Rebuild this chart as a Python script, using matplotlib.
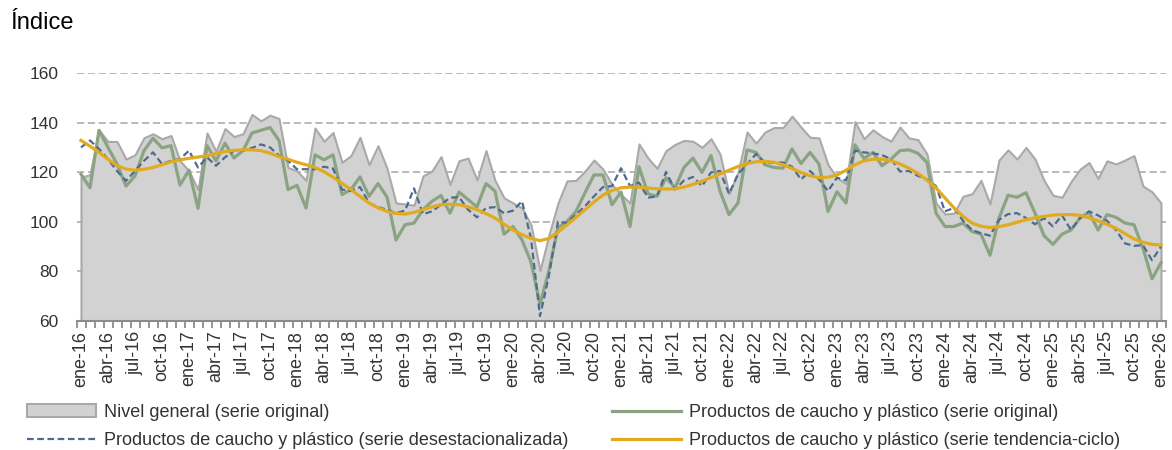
import matplotlib
matplotlib.use('Agg')
import matplotlib.pyplot as plt
import numpy as np

plt.rcParams['font.family'] = ['Liberation Sans', 'DejaVu Sans']

# monthly index, ene-16 .. ene-26
nivel_general = [118, 119, 137, 132.4, 132.4, 125.3, 127, 133.9, 135.5, 133.5,
                 134.8, 124.6, 120.5, 113, 135.8, 128.4, 137.6, 134.4, 135.5, 143.3,
                 140.7, 143, 141.6, 121.9, 120.5, 116.7, 137.8, 132.5, 136, 124,
                 126.7, 134.1, 123, 130.7, 121.6, 107.6, 107.2, 106.7, 118.5, 120.5,
                 126.3, 115.1, 124.6, 125.7, 116.9, 128.7, 116.7, 109.7, 107.6, 105.6,
                 98.8, 80.4, 94.8, 107.6, 116.5, 116.7, 120.5, 124.9, 121.2, 115.1,
                 111, 107.6, 131.4, 125.7, 121.6, 128.7, 131.2, 132.8, 132.5, 130,
                 133.5, 127.3, 111.3, 119.9, 136.2, 131.7, 136.2, 138, 138, 142.6,
                 138.2, 134.1, 133.8, 123, 117.8, 115.4, 140.4, 133.5, 137.1, 134.4,
                 132.5, 138.2, 133.8, 133.1, 127.3, 107.6, 103.1, 103.5, 110.3, 111.3,
                 116.7, 107.2, 124.9, 129, 125.3, 130, 125.3, 116.7, 110.7, 109.9,
                 116.2, 121.2, 123.9, 117.5, 124.6, 123.3, 124.9, 126.7, 114.4, 112.1,
                 107.6]

caucho_original = [119.2, 113.7, 136.9, 130, 123.3, 114.4, 118.5, 128.7, 133.7, 129.8,
                   130.7, 114.8, 120.8, 105.4, 130.7, 124.6, 131.7, 125.7, 128.7, 135.8,
                   136.9, 138, 132.8, 113, 114.7, 105.6, 127, 125, 127, 111,
                   113, 118.1, 110.3, 115.4, 110, 92.7, 98.8, 99.5, 104.9, 108.3,
                   110.6, 103.5, 112, 109, 106, 115.4, 112.4, 95, 98.1, 92.7,
                   83.8, 66.8, 80.4, 97.7, 100.1, 104.2, 111.7, 118.9, 118.9, 106.9,
                   112, 98.1, 122.2, 111.3, 110.3, 117.8, 113.7, 121.9, 125.7, 119.9,
                   126.7, 112.4, 102.9, 107.6, 129, 128, 123, 121.9, 121.6, 129.4,
                   123.5, 128, 123.3, 104.2, 112.1, 107.6, 131, 125.5, 128, 122.6,
                   125.3, 128.7, 129, 127.6, 123.9, 103.5, 98.1, 98.1, 99.5, 96.1,
                   95, 86.5, 101.5, 110.7, 109.9, 111.7, 103.5, 94.4, 90.9, 95,
                   96.7, 101.5, 103.9, 96.7, 102.9, 101.8, 99.5, 98.8, 89.3, 77,
                   83.5]

caucho_desest = [130, 132.8, 129.4, 125.3, 120.5, 116.5, 120.5, 124.6, 128, 123.3,
                 124.6, 125.3, 128.7, 121.9, 126, 122.6, 126, 128.7, 128.7, 129.8,
                 131.2, 130, 126.7, 124.6, 121.2, 121.2, 121.2, 122.2, 121.5, 113,
                 112.4, 114, 107.6, 105.9, 104.9, 103.5, 104.5, 113.5, 103.1, 104.2,
                 106.9, 109.7, 110, 104.9, 101.8, 105.6, 105.9, 103.5, 104.5, 108.3,
                 93.3, 62, 78.4, 100.1, 99.5, 102.9, 106.3, 110.3, 114, 114.4,
                 121.6, 114.4, 115.8, 109.7, 110.3, 120.1, 113, 116.7, 118.1, 114.4,
                 119.9, 120.5, 111.3, 119.2, 123.3, 127.3, 123.9, 123.9, 123.9, 122.2,
                 117.1, 120.5, 117.1, 112.4, 117.8, 116.7, 128.7, 128, 127.6, 126.9,
                 125.3, 120.3, 120.5, 118.5, 117.1, 114.4, 104.2, 105.6, 100.4, 96.7,
                 95.4, 94.4, 100.8, 103.1, 103.5, 101.5, 99, 101.5, 98.1, 102.6,
                 96.7, 101.5, 104.2, 102.6, 100.4, 96.7, 91.3, 90.3, 90.6, 84.5,
                 90]

caucho_tendencia = [132.8, 130.5, 128, 125.2, 122.6, 121.3, 120.8, 121.2, 121.9, 123,
                    124.2, 125, 125.6, 126.1, 126.7, 127.5, 128.3, 128.8, 129, 129,
                    128.7, 127.7, 126.3, 125.2, 124, 123, 121.9, 120.2, 118, 115.5,
                    113, 110.2, 107.6, 105.6, 104.2, 103.4, 103.1, 103.8, 104.9, 106,
                    106.9, 107.1, 106.9, 106, 104.9, 103.3, 101.5, 99, 96.7, 94.8,
                    93.3, 92.4, 93.3, 95.8, 98.8, 101.8, 104.9, 108, 110.8, 112.6,
                    113.7, 114, 114, 113.6, 113.3, 113.2, 113.3, 114, 115.1, 116.4,
                    117.8, 119.3, 120.8, 122.3, 123.5, 124.2, 124.4, 124, 123, 121.5,
                    119.9, 118.6, 117.8, 118, 118.9, 120.8, 123, 124.6, 125.2, 125.3,
                    124.6, 123.3, 121.6, 119.5, 116.8, 113.7, 109.6, 105.6, 102.2, 99.5,
                    98.2, 97.7, 98, 98.8, 99.8, 100.8, 101.6, 102.2, 102.7, 102.9,
                    102.9, 102.6, 101.6, 100.4, 99, 97.4, 95.2, 93.1, 91.7, 90.9,
                    90.6]

meses = ['ene', 'abr', 'jul', 'oct']
anios = ['16', '17', '18', '19', '20', '21', '22', '23', '24', '25', '26']

etiquetas = [m + '-' + a for a in anios for m in meses][:41]
x = np.arange(len(nivel_general))

fig = plt.figure(figsize=(11.72, 4.5), dpi=100)
ax = fig.add_axes([76.5 / 1172, 1 - 321 / 450, 1089 / 1172, 248 / 450])

ax.fill_between(x, 60, nivel_general, facecolor='#d2d2d2', edgecolor='#a9a9a9',
                linewidth=1.5, zorder=2, label='Nivel general (serie original)')
l_orig, = ax.plot(x, caucho_original, color='#8aa382', lw=2.3, zorder=3,
                  label='Productos de caucho y plástico (serie original)')
l_des, = ax.plot(x, caucho_desest, color='#4d6b8e', lw=1.6, ls=(0, (3, 1.6)), zorder=4,
                 label='Productos de caucho y plástico (serie desestacionalizada)')
l_tend, = ax.plot(x, caucho_tendencia, color='#e2ab1f', lw=2.3, zorder=5,
                  label='Productos de caucho y plástico (serie tendencia-ciclo)')

ax.set_xlim(-0.5, len(x) - 0.5)
ax.set_ylim(60, 160)
ax.set_yticks(np.arange(60, 161, 20))
for v in range(80, 161, 20):
    ax.axhline(v, color='#b3b3b3', lw=1.3, ls=(0, (4, 2)), zorder=1)

ax.set_xticks(np.arange(0, len(x), 3))
ax.set_xticklabels(etiquetas, rotation=90, fontsize=13, color='#333333')
ax.set_xticks(np.arange(-0.5, len(x), 1), minor=True)
ax.tick_params(axis='x', which='major', length=0, pad=7)
ax.tick_params(axis='x', which='minor', length=5, width=1.3, color='#8c8c8c')
ax.tick_params(axis='y', length=0, labelsize=12.5, labelcolor='#333333', pad=13)

for s in ['top', 'right', 'left']:
    ax.spines[s].set_visible(False)
ax.spines['bottom'].set_color('#8c8c8c')
ax.spines['bottom'].set_linewidth(1.5)
ax.spines['bottom'].set_zorder(6)

fig.text(10 / 1172, 1 - 23 / 450, 'Índice', fontsize=17, va='center', ha='left')

h, lab = ax.get_legend_handles_labels()
kw = dict(frameon=False, fontsize=13, borderpad=0, borderaxespad=0, handlelength=3.8,
          handletextpad=0.45, labelspacing=0.6, loc='upper left')
leg1 = fig.legend([h[0], h[2]], [lab[0], lab[2]], bbox_to_anchor=(27 / 1172, 1 - 404 / 450), **kw)
leg2 = fig.legend([h[1], h[3]], [lab[1], lab[3]], bbox_to_anchor=(612 / 1172, 1 - 404 / 450), **kw)
for t in leg1.get_texts() + leg2.get_texts():
    t.set_color('#333333')

fig.savefig('out.png', dpi=100)
